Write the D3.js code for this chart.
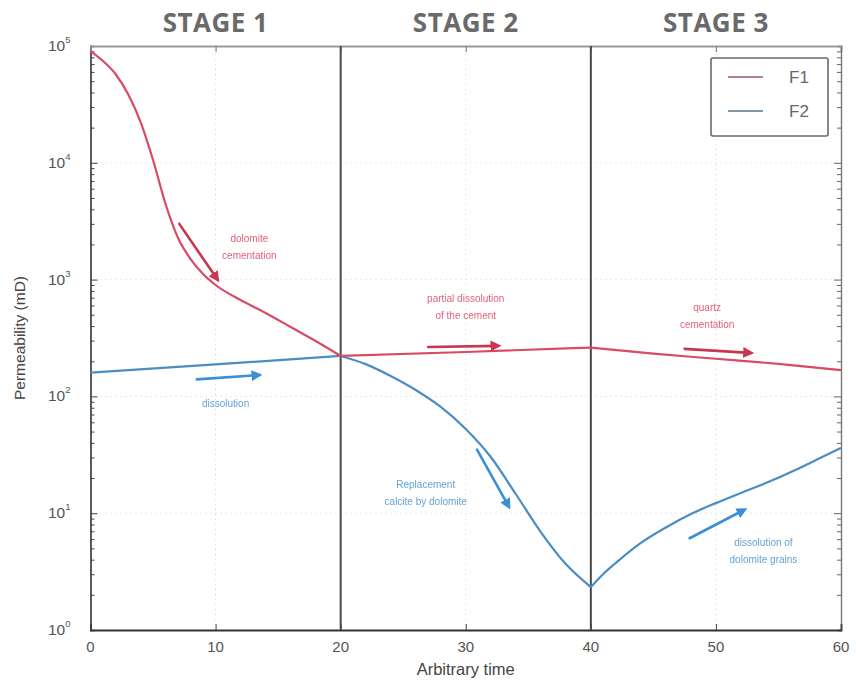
<!DOCTYPE html>
<html>
<head>
<meta charset="utf-8">
<script src="https://cdn.jsdelivr.net/npm/d3@7"></script>
<style>
  html, body { margin: 0; padding: 0; background: #fff; }
  svg { display: block; }
</style>
</head>
<body>
<svg id="chart" width="856" height="687"></svg>
<script>
// Permeability evolution of two facies through three diagenetic stages
const stageLabels = ["STAGE 1", "STAGE 2", "STAGE 3"];
const stageBounds = [0, 20, 40, 60];

const timeF1 = [0, 1, 2, 3, 4, 5, 6, 7, 8, 9, 10, 12, 14, 16, 18, 20, 30, 40, 45, 50, 55, 60];
const permF1 = [90600, 74400, 57600, 38800, 22400, 10570, 4440, 2270, 1500, 1117, 899, 669, 518, 393, 298, 222, 240, 262, 232, 210, 190, 168];

const timeF2 = [0, 10, 20, 22, 24, 26, 28, 30, 32, 34, 36, 38, 40, 41, 42, 44, 46, 48, 50, 52, 54, 56, 58, 60];
const permF2 = [160, 188, 222, 189, 149.5, 113.4, 81.2, 52.6, 30.3, 14.6, 6.9, 3.67, 2.33, 3.02, 3.75, 5.56, 7.55, 9.84, 12.2, 14.9, 18.1, 22.5, 28.5, 36.2];

const seriesNames = ["F1", "F2"];
const xTicks = [0, 10, 20, 30, 40, 50, 60];
const yTicks = [1, 10, 100, 1000, 10000, 100000];

// Process annotations: label position (first line baseline), arrow start/end in data space
const annotations = [
  { lines: ["dolomite", "cementation"], at: [12.7, 2100], series: "F1", arrow: [[7.1, 3000], [10.1, 1020]] },
  { lines: ["partial dissolution", "of the cement"], at: [30, 640], series: "F1", arrow: [[27, 265], [32.5, 271]] },
  { lines: ["quartz", "cementation"], at: [49.3, 540], series: "F1", arrow: [[47.5, 255], [52.7, 236]] },
  { lines: ["dissolution"], at: [10.8, 81], series: "F2", arrow: [[8.5, 140], [13.4, 152]] },
  { lines: ["Replacement", "calcite by dolomite"], at: [26.8, 16.4], series: "F2", arrow: [[30.9, 35], [33.4, 11.6]] },
  { lines: ["dissolution of", "dolomite grains"], at: [53.8, 5.2], series: "F2", arrow: [[47.9, 6.1], [52.2, 10.6]] }
];

const colors = { F1: "#d94a64", F2: "#4a8dc4" };
const arrowColors = { F1: "#c93650", F2: "#3b8fd6" };
const noteColors = { F1: "#e35f7a", F2: "#63a3d6" };
const legendColors = { F1: "#b77f8d", F2: "#7f9aa6" };

const svg = d3.select("#chart");
const margin = { left: 90.5, right: 15, top: 46, bottom: 57 };
const W = 856, H = 687;

const x = d3.scaleLinear().domain([0, 60]).range([margin.left, W - margin.right]);
const y = d3.scaleLog().domain([1, 100000]).range([H - margin.bottom, margin.top]);

const defs = svg.append("defs");
defs.append("filter").attr("id", "soft")
  .append("feGaussianBlur").attr("stdDeviation", 0.45);
seriesNames.forEach(s => {
  defs.append("marker")
    .attr("id", "head-" + s)
    .attr("viewBox", "0 0 10 10")
    .attr("refX", 6).attr("refY", 5)
    .attr("markerWidth", 4.2).attr("markerHeight", 4.2)
    .attr("orient", "auto")
    .append("path").attr("d", "M0,0 L10,5 L0,10 Z")
    .attr("fill", arrowColors[s]);
});

const plot = svg.append("g");

// faint dotted grid at major ticks
const grid = plot.append("g").attr("stroke", "#d4d4d4").attr("stroke-dasharray", "1,4").attr("stroke-width", 1);
yTicks.slice(1, -1).forEach(v => {
  grid.append("line").attr("x1", x(0)).attr("x2", x(60)).attr("y1", y(v)).attr("y2", y(v));
});
[10, 30, 50].forEach(v => {
  grid.append("line").attr("x1", x(v)).attr("x2", x(v)).attr("y1", y(1)).attr("y2", y(100000));
});

// axes with inward log ticks
const logTicks = d3.range(0, 5).flatMap(e => d3.range(1, 10).map(m => m * Math.pow(10, e))).concat([100000]);
const isMajor = d => Math.abs(Math.log10(d) - Math.round(Math.log10(d))) < 1e-9;

const gl = plot.append("g").attr("transform", `translate(${x(0)},0)`)
  .call(d3.axisRight(y).tickValues(logTicks).tickFormat("").tickSizeOuter(0).tickSize(4));
gl.selectAll(".tick line").attr("x2", d => isMajor(d) ? 7 : 4).attr("stroke", "#444");
gl.select(".domain").attr("stroke", "#333").attr("stroke-width", 1.6);

const gr = plot.append("g").attr("transform", `translate(${x(60)},0)`)
  .call(d3.axisLeft(y).tickValues(logTicks).tickFormat("").tickSizeOuter(0).tickSize(4));
gr.selectAll(".tick line").attr("x2", d => isMajor(d) ? -7 : -4).attr("stroke", "#666");
gr.select(".domain").attr("stroke", "#777").attr("stroke-width", 1.4);

const gb = plot.append("g").attr("transform", `translate(0,${y(1)})`)
  .call(d3.axisTop(x).tickValues(xTicks).tickFormat("").tickSizeOuter(0).tickSize(6));
gb.selectAll(".tick line").attr("stroke", "#444");
gb.select(".domain").attr("stroke", "#333").attr("stroke-width", 1.8);

const gt = plot.append("g").attr("transform", `translate(0,${y(100000)})`)
  .call(d3.axisBottom(x).tickValues(xTicks).tickFormat("").tickSizeOuter(0).tickSize(6));
gt.selectAll(".tick line").attr("stroke", "#777");
gt.select(".domain").attr("stroke", "#999").attr("stroke-width", 2.2);

// tick labels
const labelFont = "'Liberation Sans', Arial, sans-serif";
svg.append("g").selectAll("text").data(xTicks).join("text")
  .attr("x", x).attr("y", y(1) + 22)
  .attr("text-anchor", "middle")
  .attr("font-family", labelFont).attr("font-size", 15).attr("fill", "#555")
  .text(d => d);

const yl = svg.append("g").selectAll("text").data(yTicks).join("text")
  .attr("x", x(0) - 20).attr("y", d => y(d) + 5)
  .attr("text-anchor", "end")
  .attr("font-family", labelFont).attr("font-size", 15.5).attr("fill", "#555");
yl.append("tspan").text("10");
yl.append("tspan").attr("dy", -8).attr("font-size", 9.5).text(d => Math.round(Math.log10(d)));

svg.append("text")
  .attr("x", (x(0) + x(60)) / 2).attr("y", H - 12)
  .attr("text-anchor", "middle")
  .attr("font-family", labelFont).attr("font-size", 16.5).attr("fill", "#444")
  .text("Arbitrary time");

svg.append("text")
  .attr("transform", `translate(25,${(y(1) + y(100000)) / 2}) rotate(-90)`)
  .attr("text-anchor", "middle")
  .attr("font-family", labelFont).attr("font-size", 15.5).attr("fill", "#444")
  .text("Permeability (mD)");

// stage titles
svg.append("g").selectAll("text").data(stageLabels).join("text")
  .attr("x", (d, i) => (x(stageBounds[i]) + x(stageBounds[i + 1])) / 2)
  .attr("y", 32)
  .attr("text-anchor", "middle")
  .attr("font-family", "'Open Sans', sans-serif").attr("font-weight", 700)
  .attr("font-size", 26).attr("letter-spacing", 0.5).attr("fill", "#6a6a6a")
  .text(d => d);

// stage boundaries
plot.append("g").selectAll("line").data(stageBounds.slice(1, -1)).join("line")
  .attr("x1", x).attr("x2", x)
  .attr("y1", y(100000)).attr("y2", y(1))
  .attr("stroke", "#4a4a4a").attr("stroke-width", 2);

// series, drawn stage by stage so the stage boundaries stay sharp
const line = d3.line().x(d => x(d[0])).y(d => y(d[1])).curve(d3.curveMonotoneX);
function stageSegments(ts, vs) {
  const pts = ts.map((t, i) => [t, vs[i]]);
  return d3.range(stageBounds.length - 1).map(i =>
    pts.filter(p => p[0] >= stageBounds[i] && p[0] <= stageBounds[i + 1]));
}
const seriesData = { F1: stageSegments(timeF1, permF1), F2: stageSegments(timeF2, permF2) };
["F2", "F1"].forEach(s => {
  plot.append("g").selectAll("path").data(seriesData[s]).join("path")
    .attr("d", line)
    .attr("fill", "none")
    .attr("stroke", colors[s])
    .attr("stroke-width", 2.2)
    .attr("stroke-linejoin", "round");
});

// annotations
const notes = svg.append("g");
annotations.forEach(a => {
  notes.append("line")
    .attr("x1", x(a.arrow[0][0])).attr("y1", y(a.arrow[0][1]))
    .attr("x2", x(a.arrow[1][0])).attr("y2", y(a.arrow[1][1]))
    .attr("stroke", arrowColors[a.series]).attr("stroke-width", 2.6)
    .attr("stroke-linecap", "round")
    .attr("marker-end", `url(#head-${a.series})`);
  const t = notes.append("text")
    .attr("x", x(a.at[0])).attr("y", y(a.at[1]))
    .attr("text-anchor", "middle")
    .attr("font-family", labelFont).attr("font-size", 10)
    .attr("fill", noteColors[a.series])
    .attr("filter", "url(#soft)");
  a.lines.forEach((l, i) => t.append("tspan").attr("x", x(a.at[0])).attr("dy", i === 0 ? 0 : 17).text(l));
});

// legend
const lg = svg.append("g").attr("transform", "translate(711,58)");
lg.append("rect").attr("width", 117).attr("height", 78).attr("rx", 2)
  .attr("fill", "#fff").attr("stroke", "#6a6a6a").attr("stroke-width", 1.6);
seriesNames.forEach((s, i) => {
  const yy = 19 + i * 34;
  lg.append("line").attr("x1", 17).attr("x2", 52).attr("y1", yy).attr("y2", yy)
    .attr("stroke", legendColors[s]).attr("stroke-width", 2);
  lg.append("text").attr("x", 78).attr("y", yy + 6)
    .attr("font-family", labelFont).attr("font-size", 17).attr("fill", "#666")
    .text(s);
});
</script>
</body>
</html>
